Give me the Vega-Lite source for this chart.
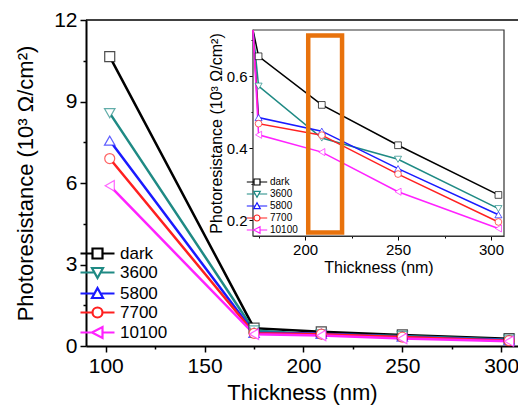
{
  "$schema": "https://vega.github.io/schema/vega-lite/v6.json",
  "width": 432,
  "height": 326,
  "autosize": "none",
  "padding": {"left": 86, "top": 20, "right": 0, "bottom": 62},
  "config": {
    "view": {"stroke": null},
    "font": "Liberation Sans",
    "axis": {"grid": false, "domainColor": "black", "tickColor": "black", "labelColor": "black", "titleColor": "black", "labelFont": "Liberation Sans", "titleFont": "Liberation Sans", "titleFontWeight": "normal"},
    "legend": {"labelFont": "Liberation Sans", "padding": 0, "labelColor": "black"}
  },
  "datasets": {
    "pr": [
      {"t": 102, "r": 10.65, "s": "dark"},
      {"t": 175, "r": 0.655, "s": "dark"},
      {"t": 209, "r": 0.52, "s": "dark"},
      {"t": 250, "r": 0.408, "s": "dark"},
      {"t": 304, "r": 0.27, "s": "dark"},
      {"t": 102, "r": 8.57, "s": "3600"},
      {"t": 175, "r": 0.572, "s": "3600"},
      {"t": 209, "r": 0.428, "s": "3600"},
      {"t": 250, "r": 0.369, "s": "3600"},
      {"t": 304, "r": 0.232, "s": "3600"},
      {"t": 102, "r": 7.56, "s": "5800"},
      {"t": 175, "r": 0.485, "s": "5800"},
      {"t": 209, "r": 0.447, "s": "5800"},
      {"t": 250, "r": 0.343, "s": "5800"},
      {"t": 304, "r": 0.215, "s": "5800"},
      {"t": 102, "r": 6.9, "s": "7700"},
      {"t": 175, "r": 0.468, "s": "7700"},
      {"t": 209, "r": 0.436, "s": "7700"},
      {"t": 250, "r": 0.328, "s": "7700"},
      {"t": 304, "r": 0.195, "s": "7700"},
      {"t": 102, "r": 5.9, "s": "10100"},
      {"t": 175, "r": 0.437, "s": "10100"},
      {"t": 209, "r": 0.389, "s": "10100"},
      {"t": 250, "r": 0.279, "s": "10100"},
      {"t": 304, "r": 0.177, "s": "10100"}
    ]
  },
  "layer": [
    {
      "layer": [
        {
          "data": {"values": [{}]},
          "mark": {"type": "rule", "color": "black", "strokeWidth": 1.5},
          "encoding": {"y": {"datum": 12, "type": "quantitative"}}
        },
        {
          "data": {"name": "pr"},
          "mark": {"type": "line", "strokeWidth": 2.5},
          "encoding": {
            "x": {"field": "t", "type": "quantitative", "scale": {"domain": [90, 308.5], "nice": false, "zero": false},
              "axis": {"title": "Thickness (nm)", "values": [100, 125, 150, 175, 200, 225, 250, 275, 300], "labelExpr": "datum.value % 50 === 0 ? datum.label : ''", "tickSize": {"condition": {"test": "datum.value % 50 === 0", "value": 6}, "value": 3}, "labelFontSize": 21, "titleFontSize": 22, "domainWidth": 2, "tickWidth": 1.5, "labelPadding": 3, "titlePadding": 6, "labelFlush": false, "labelOverlap": false}},
            "y": {"field": "r", "type": "quantitative", "scale": {"domain": [0, 12], "nice": false},
              "axis": {"title": "Photoresistance (10³ Ω/cm²)", "values": [0, 1.5, 3, 4.5, 6, 7.5, 9, 10.5, 12], "labelExpr": "datum.value % 3 === 0 ? datum.label : ''", "tickSize": {"condition": {"test": "datum.value % 3 === 0", "value": 6}, "value": 3}, "labelFontSize": 21, "titleFontSize": 22, "domainWidth": 2, "tickWidth": 1.5, "labelPadding": 3, "titlePadding": 16, "labelFlush": false, "labelOverlap": false}},
            "color": {"field": "s", "type": "nominal", "scale": {"domain": ["dark", "3600", "5800", "7700", "10100"], "range": ["#000000", "#1F8A84", "#1A1AFF", "#FF2020", "#FF22FF"]},
              "legend": {"title": null, "orient": "none", "legendX": 3, "legendY": 225, "labelFontSize": 17, "rowPadding": 0, "labelOffset": 14, "symbolSize": 100, "symbolStrokeWidth": 2.2, "symbolOpacity": 1}}
          }
        },
        {
          "data": {"name": "pr"},
          "mark": {"type": "point", "filled": false, "opacity": 0, "size": 100, "strokeWidth": 2.2},
          "encoding": {
            "x": {"field": "t", "type": "quantitative"},
            "y": {"field": "r", "type": "quantitative"},
            "color": {"field": "s", "type": "nominal",
              "legend": {"title": null, "orient": "none", "legendX": 3, "legendY": 225, "labelFontSize": 17, "rowPadding": 0, "labelOffset": 14, "symbolSize": 100, "symbolStrokeWidth": 2.2, "symbolOpacity": 1}},
            "shape": {"field": "s", "type": "nominal", "scale": {"domain": ["dark", "3600", "5800", "7700", "10100"], "range": ["M-3.4,0H-1M1,0H3.4M-1,-1H1V1H-1Z", "M-3.4,0H-0.6M0.6,0H3.4M-1.1,-0.9H1.1L0,1.1Z", "M-3.4,0H-0.6M0.6,0H3.4M-1.1,0.9H1.1L0,-1.1Z", "M-3.4,0H-1M1,0H3.4M1,0A1,1 0 1 1 -1,0A1,1 0 1 1 1,0Z", "M-3.4,0H-1.1M1,0H3.4M-1.1,0L1,-1.1V1.1Z"]},
              "legend": {"title": null, "orient": "none", "legendX": 3, "legendY": 225, "labelFontSize": 17, "rowPadding": 0, "labelOffset": 14, "symbolSize": 100, "symbolStrokeWidth": 2.2, "symbolOpacity": 1}}
          }
        },
        {
          "data": {"name": "pr"},
          "transform": [{"filter": "datum.s == 'dark'"}],
          "mark": {"type": "point", "shape": "square", "filled": false, "fill": "white", "color": "#000000", "size": 100, "strokeWidth": 1.2, "strokeOpacity": 0.7, "opacity": 1},
          "encoding": {"x": {"field": "t", "type": "quantitative"}, "y": {"field": "r", "type": "quantitative"}}
        },
        {
          "data": {"name": "pr"},
          "transform": [{"filter": "datum.s == '3600'"}],
          "mark": {"type": "point", "shape": "triangle-down", "filled": false, "fill": "white", "color": "#1F8A84", "size": 110, "strokeWidth": 1.2, "strokeOpacity": 0.7, "opacity": 1},
          "encoding": {"x": {"field": "t", "type": "quantitative"}, "y": {"field": "r", "type": "quantitative"}}
        },
        {
          "data": {"name": "pr"},
          "transform": [{"filter": "datum.s == '5800'"}],
          "mark": {"type": "point", "shape": "triangle-up", "filled": false, "fill": "white", "color": "#1A1AFF", "size": 110, "strokeWidth": 1.2, "strokeOpacity": 0.7, "opacity": 1},
          "encoding": {"x": {"field": "t", "type": "quantitative"}, "y": {"field": "r", "type": "quantitative"}}
        },
        {
          "data": {"name": "pr"},
          "transform": [{"filter": "datum.s == '7700'"}],
          "mark": {"type": "point", "shape": "circle", "filled": false, "fill": "white", "color": "#FF2020", "size": 100, "strokeWidth": 1.2, "strokeOpacity": 0.7, "opacity": 1},
          "encoding": {"x": {"field": "t", "type": "quantitative"}, "y": {"field": "r", "type": "quantitative"}}
        },
        {
          "data": {"name": "pr"},
          "transform": [{"filter": "datum.s == '10100'"}],
          "mark": {"type": "point", "shape": "triangle-left", "filled": false, "fill": "white", "color": "#FF22FF", "size": 110, "strokeWidth": 1.2, "strokeOpacity": 0.7, "opacity": 1},
          "encoding": {"x": {"field": "t", "type": "quantitative"}, "y": {"field": "r", "type": "quantitative"}}
        }
      ]
    },
    {
      "layer": [
        {
          "data": {"values": [{}]},
          "mark": {"type": "rect", "fill": "white", "stroke": "#333333", "strokeWidth": 1.2},
          "encoding": {
            "x": {"datum": 172, "type": "quantitative"},
            "x2": {"datum": 307},
            "y": {"datum": 0.156, "type": "quantitative"},
            "y2": {"datum": 0.728}
          }
        },
        {
          "data": {"name": "pr"},
          "mark": {"type": "line", "strokeWidth": 1.5},
          "encoding": {
            "x": {"field": "t", "type": "quantitative", "scale": {"domain": [172, 307], "range": [167, 418], "nice": false, "zero": false, "clamp": true},
              "axis": {"orient": "bottom", "offset": -110, "title": "Thickness (nm)", "values": [175, 200, 225, 250, 275, 300], "labelExpr": "datum.value % 50 === 0 ? datum.label : ''", "tickSize": {"condition": {"test": "datum.value % 50 === 0", "value": 4}, "value": 2}, "labelFontSize": 15, "titleFontSize": 16, "domainWidth": 1.2, "domainColor": "#333333", "labelPadding": 2, "titlePadding": 2, "labelFlush": false, "labelOverlap": false}},
            "y": {"field": "r", "type": "quantitative", "scale": {"domain": [0.156, 0.728], "range": [216, 10], "nice": false, "zero": false, "clamp": true},
              "axis": {"orient": "left", "offset": -167, "title": "Photoresistance (10³ Ω/cm²)", "values": [0.2, 0.3, 0.4, 0.5, 0.6, 0.7], "format": ".1f", "labelExpr": "round(datum.value * 10) % 2 === 0 ? datum.label : ''", "tickSize": {"condition": {"test": "round(datum.value * 10) % 2 === 0", "value": 4}, "value": 2}, "labelFontSize": 15, "titleFontSize": 16, "domainWidth": 1.2, "domainColor": "#333333", "labelPadding": 2, "titlePadding": 2, "labelFlush": false, "labelOverlap": false}},
            "color": {"field": "s", "type": "nominal", "scale": {"domain": ["dark", "3600", "5800", "7700", "10100"], "range": ["#000000", "#1F8A84", "#1A1AFF", "#FF2020", "#FF22FF"]},
              "legend": {"title": null, "orient": "none", "legendX": 166, "legendY": 157, "labelFontSize": 10, "rowPadding": 0, "labelOffset": 8, "symbolSize": 36, "symbolStrokeWidth": 1.2, "symbolOpacity": 1}}
          }
        },
        {
          "data": {"name": "pr"},
          "transform": [{"filter": "datum.t > 150"}],
          "mark": {"type": "point", "filled": false, "opacity": 0, "size": 36, "strokeWidth": 1.2},
          "encoding": {
            "x": {"field": "t", "type": "quantitative"},
            "y": {"field": "r", "type": "quantitative"},
            "color": {"field": "s", "type": "nominal",
              "legend": {"title": null, "orient": "none", "legendX": 166, "legendY": 157, "labelFontSize": 10, "rowPadding": 0, "labelOffset": 8, "symbolSize": 36, "symbolStrokeWidth": 1.2, "symbolOpacity": 1}},
            "shape": {"field": "s", "type": "nominal", "scale": {"domain": ["dark", "3600", "5800", "7700", "10100"], "range": ["M-3.4,0H-1M1,0H3.4M-1,-1H1V1H-1Z", "M-3.4,0H-0.6M0.6,0H3.4M-1.1,-0.9H1.1L0,1.1Z", "M-3.4,0H-0.6M0.6,0H3.4M-1.1,0.9H1.1L0,-1.1Z", "M-3.4,0H-1M1,0H3.4M1,0A1,1 0 1 1 -1,0A1,1 0 1 1 1,0Z", "M-3.4,0H-1.1M1,0H3.4M-1.1,0L1,-1.1V1.1Z"]},
              "legend": {"title": null, "orient": "none", "legendX": 166, "legendY": 157, "labelFontSize": 10, "rowPadding": 0, "labelOffset": 8, "symbolSize": 36, "symbolStrokeWidth": 1.2, "symbolOpacity": 1}}
          }
        },
        {
          "data": {"name": "pr"},
          "transform": [{"filter": "datum.t > 150 && datum.s == 'dark'"}],
          "mark": {"type": "point", "shape": "square", "filled": false, "fill": "white", "color": "#000000", "size": 45, "strokeWidth": 1, "strokeOpacity": 0.7, "opacity": 1},
          "encoding": {"x": {"field": "t", "type": "quantitative"}, "y": {"field": "r", "type": "quantitative"}}
        },
        {
          "data": {"name": "pr"},
          "transform": [{"filter": "datum.t > 150 && datum.s == '3600'"}],
          "mark": {"type": "point", "shape": "triangle-down", "filled": false, "fill": "white", "color": "#1F8A84", "size": 50, "strokeWidth": 1, "strokeOpacity": 0.7, "opacity": 1},
          "encoding": {"x": {"field": "t", "type": "quantitative"}, "y": {"field": "r", "type": "quantitative"}}
        },
        {
          "data": {"name": "pr"},
          "transform": [{"filter": "datum.t > 150 && datum.s == '5800'"}],
          "mark": {"type": "point", "shape": "triangle-up", "filled": false, "fill": "white", "color": "#1A1AFF", "size": 50, "strokeWidth": 1, "strokeOpacity": 0.7, "opacity": 1},
          "encoding": {"x": {"field": "t", "type": "quantitative"}, "y": {"field": "r", "type": "quantitative"}}
        },
        {
          "data": {"name": "pr"},
          "transform": [{"filter": "datum.t > 150 && datum.s == '7700'"}],
          "mark": {"type": "point", "shape": "circle", "filled": false, "fill": "white", "color": "#FF2020", "size": 45, "strokeWidth": 1, "strokeOpacity": 0.7, "opacity": 1},
          "encoding": {"x": {"field": "t", "type": "quantitative"}, "y": {"field": "r", "type": "quantitative"}}
        },
        {
          "data": {"name": "pr"},
          "transform": [{"filter": "datum.t > 150 && datum.s == '10100'"}],
          "mark": {"type": "point", "shape": "triangle-left", "filled": false, "fill": "white", "color": "#FF22FF", "size": 50, "strokeWidth": 1, "strokeOpacity": 0.7, "opacity": 1},
          "encoding": {"x": {"field": "t", "type": "quantitative"}, "y": {"field": "r", "type": "quantitative"}}
        },
        {
          "data": {"values": [{}]},
          "mark": {"type": "rect", "fill": null, "stroke": "#E8720C", "strokeWidth": 4.5},
          "encoding": {
            "x": {"datum": 201.7, "type": "quantitative"},
            "x2": {"datum": 219.9},
            "y": {"datum": 0.166, "type": "quantitative"},
            "y2": {"datum": 0.713}
          }
        }
      ]
    }
  ],
  "resolve": {
    "scale": {"x": "independent", "y": "independent", "color": "independent", "shape": "independent"},
    "axis": {"x": "independent", "y": "independent"},
    "legend": {"color": "independent", "shape": "independent"}
  }
}
